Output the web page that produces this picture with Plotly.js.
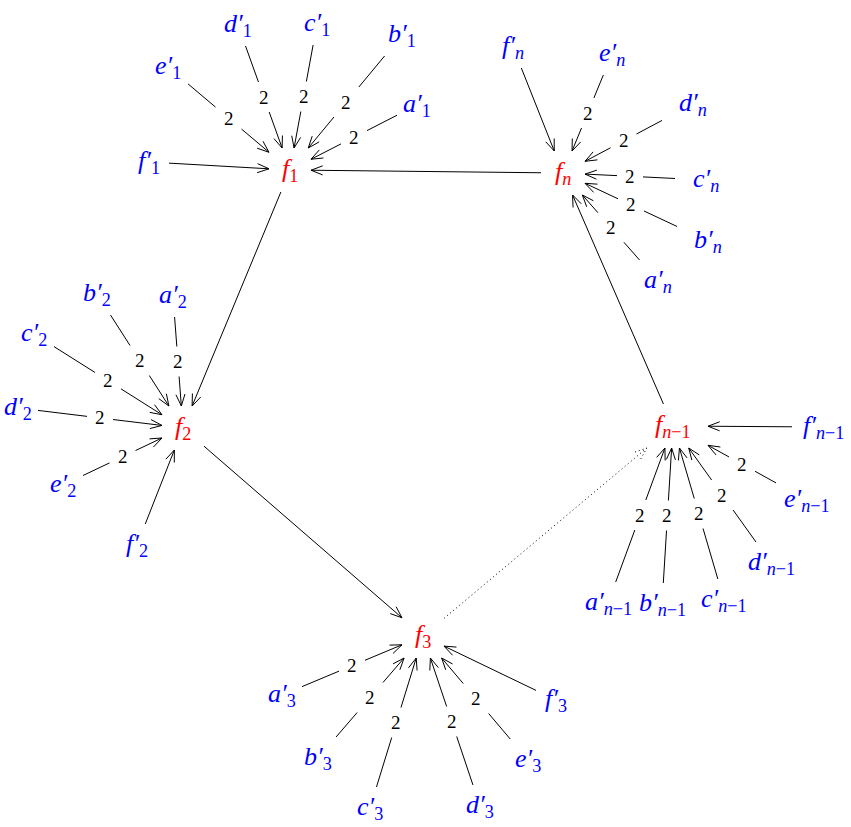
<!DOCTYPE html>
<html><head><meta charset="utf-8">
<script src="https://cdn.plot.ly/plotly-3.0.1.min.js"></script>
<style>html,body{margin:0;padding:0;background:#fff}</style></head>
<body><div id="chart" style="width:851px;height:827px"></div>
<script>
// ---- hub nodes (the cycle f1 -> f2 -> f3 ... f_{n-1} -> f_n -> f1)
const hubIds    = ['f1', 'f2', 'f3', 'fn1', 'fn'];
const hubSubs   = ['1', '2', '3', '<i>n</i>\u22121', '<i>n</i>'];
const hubX      = [290, 183, 423, 673, 563];
const hubY      = [170, 428, 636, 426, 173];
const hubHalfW  = [21, 21, 21, 35, 22];
const hubHalfH  = [22, 22, 22, 22, 22];

// ---- leaf nodes a'..f' attached to each hub
const leafLetters = ['a', 'b', 'c', 'd', 'e', 'f'];
const leafWeights = ['2', '2', '2', '2', '2', ''];
const leafX_f1  = [417, 402, 317, 238, 168, 149];
const leafY_f1  = [105, 35, 24, 25, 67, 162];
const leafX_f2  = [173, 97, 34, 18, 63, 137];
const leafY_f2  = [296, 294, 334, 408, 485, 545];
const leafX_f3  = [282, 318, 370, 480, 528, 556];
const leafY_f3  = [695, 758, 808, 806, 760, 700];
const leafX_fn1 = [608, 662, 724, 771, 807, 823];
const leafY_fn1 = [603, 604, 600, 563, 500, 427];
const leafX_fn  = [658, 708, 706, 693, 612, 513];
const leafY_fn  = [281, 241, 180, 104, 54, 47];
const leafXs = [leafX_f1, leafX_f2, leafX_f3, leafX_fn1, leafX_fn];
const leafYs = [leafY_f1, leafY_f2, leafY_f3, leafY_fn1, leafY_fn];

// ---- cycle edges [from, to, dotted]
const ringFrom   = ['f1', 'f2', 'f3', 'fn1', 'fn'];
const ringTo     = ['f2', 'f3', 'fn1', 'fn', 'f1'];
const ringDotted = [false, false, true, false, false];

const BLUE = '#0000ff', RED = '#ff0000';
const FONT = 'Liberation Serif';
const LSIZE = 26;

// ---- geometry helpers
function clip(cx, cy, hw, hh, ux, uy) {
  const t = Math.min(Math.abs(ux) > 1e-9 ? hw / Math.abs(ux) : 1e9,
                     Math.abs(uy) > 1e-9 ? hh / Math.abs(uy) : 1e9);
  return [cx + t * ux, cy + t * uy];
}
const solidX = [], solidY = [], dotX = [], dotY = [];
const annotations = [];
function head(hx, hy, ux, uy, arrX, arrY) {
  const L = 12.5, th = 0.37;
  const c = Math.cos(th), s = Math.sin(th);
  const b1x = hx - L * (ux * c - uy * s), b1y = hy - L * (ux * s + uy * c);
  const b2x = hx - L * (ux * c + uy * s), b2y = hy - L * (-ux * s + uy * c);
  arrX.push(b1x, hx, b2x, null); arrY.push(b1y, hy, b2y, null);
}
function edge(ax, ay, ahw, ahh, bx, by, bhw, bhh, weight, dotted) {
  let dx = bx - ax, dy = by - ay; const d = Math.hypot(dx, dy);
  const ux = dx / d, uy = dy / d;
  const t = clip(ax, ay, ahw, ahh, ux, uy);
  const h = clip(bx, by, bhw, bhh, -ux, -uy);
  const X = dotted ? dotX : solidX, Y = dotted ? dotY : solidY;
  if (weight) {
    const mx = (t[0] + h[0]) / 2, my = (t[1] + h[1]) / 2;
    const g = Math.min(Math.abs(ux) > 1e-9 ? 13 / Math.abs(ux) : 1e9,
                       Math.abs(uy) > 1e-9 ? 15 / Math.abs(uy) : 1e9);
    X.push(t[0], mx - g * ux, null, mx + g * ux, h[0], null);
    Y.push(t[1], my - g * uy, null, my + g * uy, h[1], null);
    annotations.push({x: mx, y: my, xref: 'x', yref: 'y', text: weight, showarrow: false,
      font: {family: FONT, size: 19, color: '#000'}, xanchor: 'center', yanchor: 'middle'});
  } else {
    X.push(t[0], h[0], null); Y.push(t[1], h[1], null);
  }
  head(h[0], h[1], ux, uy, X, Y);
}

// ---- leaf edges and labels
hubIds.forEach((id, i) => {
  leafLetters.forEach((L, j) => {
    const lx = leafXs[i][j], ly = leafYs[i][j];
    const wide = hubSubs[i].length > 5;
    edge(lx, ly, wide ? 31 : 20, 21, hubX[i], hubY[i], hubHalfW[i], hubHalfH[i], leafWeights[j], false);
    annotations.push({x: lx, y: ly, xref: 'x', yref: 'y', showarrow: false,
      text: '<i>' + L + '\u2032</i><sub>' + hubSubs[i] + '</sub>',
      font: {family: FONT, size: LSIZE, color: BLUE}, xanchor: 'center', yanchor: 'middle'});
  });
  annotations.push({x: hubX[i], y: hubY[i], xref: 'x', yref: 'y', showarrow: false,
    text: '<i>f</i><sub>' + hubSubs[i] + '</sub>',
    font: {family: FONT, size: LSIZE, color: RED}, xanchor: 'center', yanchor: 'middle'});
});
// ---- cycle edges
ringFrom.forEach((f, k) => {
  const a = hubIds.indexOf(f), b = hubIds.indexOf(ringTo[k]);
  edge(hubX[a], hubY[a], hubHalfW[a], hubHalfH[a], hubX[b], hubY[b], hubHalfW[b], hubHalfH[b], '', ringDotted[k]);
});

const traces = [
  {x: solidX, y: solidY, mode: 'lines', line: {color: '#000', width: 1}, hoverinfo: 'skip', type: 'scatter'},
  {x: dotX, y: dotY, mode: 'lines', line: {color: '#000', width: 1, dash: '1px,3px'}, hoverinfo: 'skip', type: 'scatter'}
];
const layout = {
  width: 851, height: 827, margin: {l: 0, r: 0, t: 0, b: 0},
  paper_bgcolor: '#fff', plot_bgcolor: '#fff', showlegend: false,
  font: {family: FONT},
  xaxis: {range: [0, 851], visible: false, fixedrange: true},
  yaxis: {range: [827, 0], visible: false, fixedrange: true},
  annotations: annotations
};
Plotly.newPlot('chart', traces, layout, {staticPlot: true});
</script></body></html>
